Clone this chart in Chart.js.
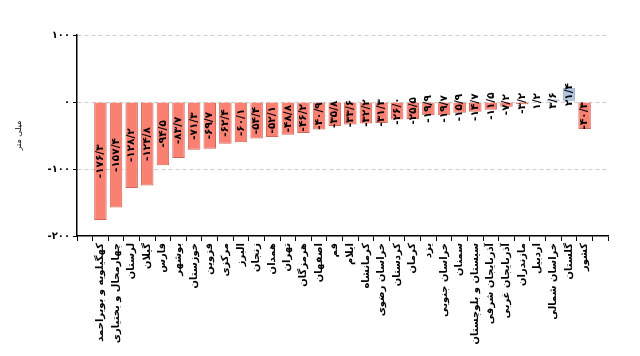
<!DOCTYPE html>
<html><head><meta charset="utf-8">
<script src="https://cdn.jsdelivr.net/npm/chart.js@4.4.0/dist/chart.umd.min.js"></script>
<style>html,body{margin:0;padding:0;background:#fff}#wrap{width:640px;height:356px}</style>
</head><body><div id="wrap"><canvas id="c" width="640" height="356"></canvas></div>
<script>
const categories = ["کهگیلویه و بویراحمد","چهارمحال و بختیاری","لرستان","گیلان","فارس","بوشهر","خوزستان","قزوین","مرکزی","البرز","زنجان","همدان","تهران","هرمزگان","اصفهان","قم","ایلام","کرمانشاه","خراسان رضوی","کردستان","کرمان","یزد","خراسان جنوبی","سمنان","سیستان و بلوچستان","آذربایجان شرقی","آذربایجان غربی","مازندران","اردبیل","خراسان شمالی","گلستان","کشور"];
const values = [-176.3,-157.4,-128.2,-124.8,-94.5,-83.7,-71.3,-69.7,-62.4,-60.1,-54.4,-52.1,-48.8,-46.2,-40.9,-35.8,-33.6,-32.2,-31.3,-26.0,-25.5,-19.9,-19.7,-15.9,-14.7,-11.5,-7.2,-3.2,1.2,3.6,21.4,-40.3];
const yTicks = [100,0,-100,-200];
const yTitle = "میلی متر";

const fa = s => String(s).replace(/\d/g,d=>"۰۱۲۳۴۵۶۷۸۹"[d]).replace(/\./g,'/');
const fmt = v => (v<0?'-':'') + fa(Math.abs(v).toFixed(1));

const labelPlugin = {
  id:'vlabels',
  afterDatasetsDraw(chart){
    const ctx = chart.ctx;
    const meta = chart.getDatasetMeta(0);
    ctx.save();
    ctx.font = 'bold 10.5px "DejaVu Sans"';
    ctx.fillStyle = '#000';
    ctx.textAlign = 'center';
    ctx.textBaseline = 'middle';
    ctx.direction = 'ltr';
    meta.data.forEach((bar,i)=>{
      const cy = (bar.y + bar.base)/2;
      ctx.save();
      ctx.translate(bar.x, cy);
      ctx.rotate(-Math.PI/2);
      ctx.fillText(fmt(values[i]), 0, 0);
      ctx.restore();
    });
    ctx.restore();
  }
};

new Chart(document.getElementById('c'), {
  type:'bar',
  data:{datasets:[{
    data:values.map((v,i)=>({x:i,y:v})),
    backgroundColor: values.map(v=>v>=0?'#b0c4de':'#fa8072'),
    borderColor: values.map(v=>v>=0?'#8fa3bd':'#d0675b'),
    borderWidth:1,
    barPercentage:0.8,
    categoryPercentage:1.0
  }]},
  options:{
    responsive:false, animation:false, devicePixelRatio:1,
    layout:{padding:{top:35,right:32,left:14,bottom:0}},
    plugins:{legend:{display:false},tooltip:{enabled:false}},
    scales:{
      x:{
        type:'linear', min:-1, max:categories.length,
        afterBuildTicks:s=>{const t=[];for(let i=-1;i<=categories.length;i++)t.push({value:i});s.ticks=t;},
        afterFit:s=>{s.height=120;},
        ticks:{autoSkip:false,maxRotation:90,minRotation:90,color:'#000',padding:2,
          font:{family:'"DejaVu Sans"',size:10,weight:'bold'},
          callback:v=>categories[v]||''},
        grid:{drawOnChartArea:false,drawTicks:true,tickLength:5,tickColor:'#000'},
        border:{color:'#000',width:1.5}
      },
      y:{
        min:-200,max:100,
        afterBuildTicks:s=>{s.ticks=yTicks.map(v=>({value:v}));},
        afterFit:s=>{s.width=63;},
        ticks:{color:'#000',font:{family:'"DejaVu Sans"',size:10,weight:'bold'},callback:v=>fa(v),padding:3},
        grid:{color:c=>c.tick&&c.tick.value===-200?'rgba(0,0,0,0)':'#cccccc',tickColor:'#000',tickLength:4,lineWidth:1},
        border:{color:'#000',width:1.5,dash:[4,3]},
        title:{display:true,text:yTitle,color:'#000',font:{family:'"DejaVu Sans"',size:8},padding:{top:0,bottom:16}}
      }
    }
  },
  plugins:[labelPlugin]
});
</script></body></html>
